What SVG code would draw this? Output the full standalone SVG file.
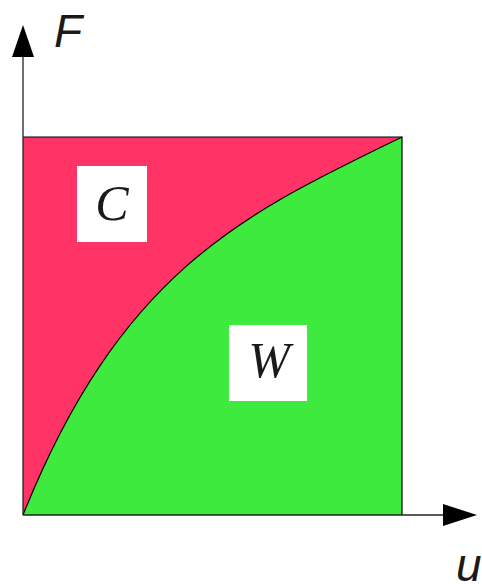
<svg xmlns="http://www.w3.org/2000/svg" width="482" height="584" viewBox="0 0 482 584">
<style>
.axis{stroke:#222;stroke-width:1.3;fill:none}
.lbl{font-family:"Liberation Sans",Arial,sans-serif;font-style:italic;font-size:46px;fill:#1a1a1a}
.var{font-family:"Liberation Serif","Times New Roman",serif;font-style:italic;font-size:50px;fill:#1a1a1a;text-anchor:middle}
.box{fill:#ffffff}
</style>
<g id="region-c">
<rect x="23" y="137" width="379" height="378" fill="#ff3366"/>
</g>
<g id="region-w">
<path d="M23,515 C123,265 252,210.5 402,137 L402,515 Z" fill="#3dea3d"/>
</g>
<g id="frame">
<path d="M23,137 H402 V515" fill="none" stroke="#000" stroke-width="1.2"/>
<path d="M23,515 C123,265 252,210.5 402,137" fill="none" stroke="#000" stroke-width="1.2"/>
</g>
<g id="connectors">
<line class="axis" x1="23" y1="515" x2="23" y2="55"/>
<polygon points="23,25 12,57 34,57" fill="#000"/>
<line class="axis" x1="23" y1="515" x2="445" y2="515"/>
<polygon points="477,515 443,504 443,526" fill="#000"/>
</g>
<g id="label-f"><text class="lbl" x="54" y="47">F</text></g>
<g id="label-u"><text class="lbl" x="456" y="581">u</text></g>
<g id="label-c">
<rect class="box" x="77" y="166" width="70" height="76"/>
<text class="var" x="112" y="220">C</text>
</g>
<g id="label-w">
<rect class="box" x="229" y="325" width="78" height="76"/>
<text class="var" x="269" y="377">W</text>
</g>
</svg>
